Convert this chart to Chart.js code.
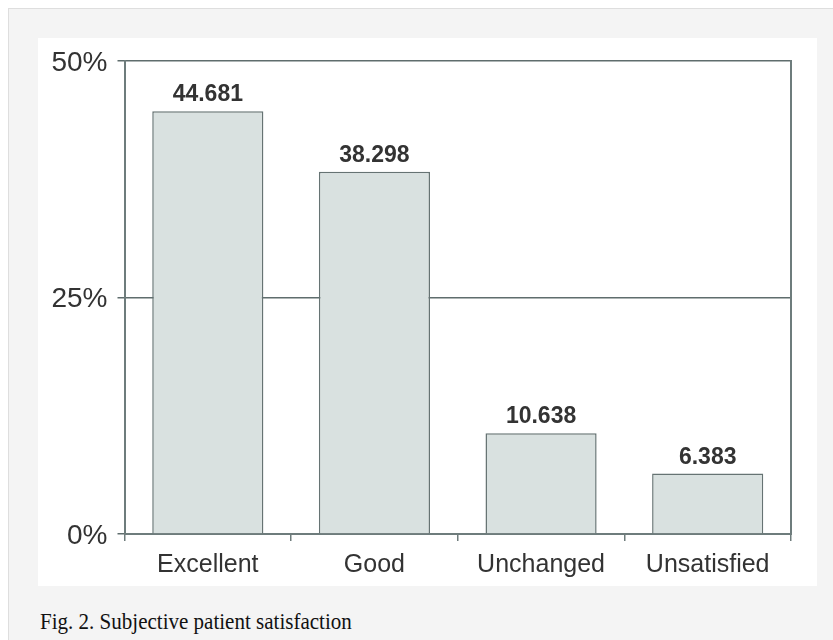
<!DOCTYPE html>
<html>
<head>
<meta charset="utf-8">
<script src="https://cdn.jsdelivr.net/npm/chart.js@4.4.0/dist/chart.umd.min.js"></script>
<style>
  body { margin: 0; background: #fff; width: 833px; height: 640px; overflow: hidden; position: relative; }
  #frame { position: absolute; left: 8px; top: 8px; width: 824px; height: 631px; background: #f4f4f4; border: 1px solid #dedede; }
  #panel { position: absolute; left: 29px; top: 29px; width: 779px; height: 548px; background: #fff; }
  #caption { position: absolute; left: 31px; top: 599px; font-family: "Liberation Serif", serif; font-size: 24px; color: #111; white-space: nowrap; transform: scaleX(0.876); transform-origin: left top; }
</style>
</head>
<body>
<div id="frame">
  <div id="panel"><canvas id="barChart" width="779" height="548"></canvas></div>
  <div id="caption">Fig. 2. Subjective patient satisfaction</div>
</div>
<script>
Chart.defaults.color = '#333';
Chart.defaults.font.family = '"Liberation Sans", Arial, sans-serif';

const categorias = ['Excellent', 'Good', 'Unchanged', 'Unsatisfied'];
const valores = [44.681, 38.298, 10.638, 6.383];
const etiquetasY = [0, 25, 50];

const lineaEje = '#6e7c7c';

// pone el numero encima de cada barra
const etiquetasBarras = {
    id: 'etiquetasBarras',
    afterDatasetsDraw(chart) {
        const ctx = chart.ctx;
        const meta = chart.getDatasetMeta(0);
        ctx.save();
        ctx.font = 'bold 23px "Liberation Sans", Arial, sans-serif';
        ctx.fillStyle = '#333';
        ctx.textAlign = 'center';
        ctx.textBaseline = 'alphabetic';
        meta.data.forEach((barra, i) => {
            ctx.fillText(valores[i].toFixed(3), barra.x, barra.y - 10);
        });
        ctx.restore();
    }
};

const graficoSatisfaccion = () => {
    const data = {
        labels: categorias,
        datasets: [{
            data: valores,
            backgroundColor: '#d9e1e0',
            borderColor: '#667373',
            borderWidth: 1.5,
            categoryPercentage: 1,
            barPercentage: 0.667
        }]
    };

    const options = {
        responsive: false,
        animation: false,
        layout: { padding: { top: 23, right: 26, left: 0, bottom: 0 } },
        plugins: {
            legend: { display: false },
            tooltip: { enabled: false }
        },
        scales: {
            x: {
                grid: {
                    offset: true,
                    drawOnChartArea: false,
                    drawTicks: true,
                    tickLength: 7,
                    color: lineaEje,
                    lineWidth: 1.5
                },
                border: { color: lineaEje, width: 2 },
                ticks: { font: { size: 25 }, padding: 9, color: '#333' },
                afterFit: (scale) => {
                    scale.height = 52;
                    scale.paddingLeft = 0;
                    scale.paddingRight = 0;
                }
            },
            y: {
                min: 0,
                max: 50,
                afterBuildTicks: (scale) => {
                    scale.ticks = etiquetasY.map(v => ({ value: v }));
                },
                grid: {
                    color: '#5f6d6d',
                    lineWidth: 1.5,
                    tickLength: 7
                },
                border: { color: lineaEje, width: 2 },
                ticks: {
                    font: { size: 28 },
                    padding: 10,
                    labelOffset: 2,
                    color: '#333',
                    callback: (v) => v + '%'
                },
                afterFit: (scale) => {
                    scale.width = 86.5;
                    scale.paddingTop = 0;
                    scale.paddingBottom = 0;
                }
            },
            y2: {
                position: 'right',
                min: 0,
                max: 50,
                ticks: { display: false },
                grid: { drawOnChartArea: false, drawTicks: false },
                border: { color: lineaEje, width: 2 },
                afterFit: (scale) => {
                    scale.width = 0;
                    scale.paddingTop = 0;
                    scale.paddingBottom = 0;
                }
            }
        }
    };

    new Chart('barChart', {
        type: 'bar',
        data,
        options,
        plugins: [etiquetasBarras]
    });
};
graficoSatisfaccion();
</script>
</body>
</html>
